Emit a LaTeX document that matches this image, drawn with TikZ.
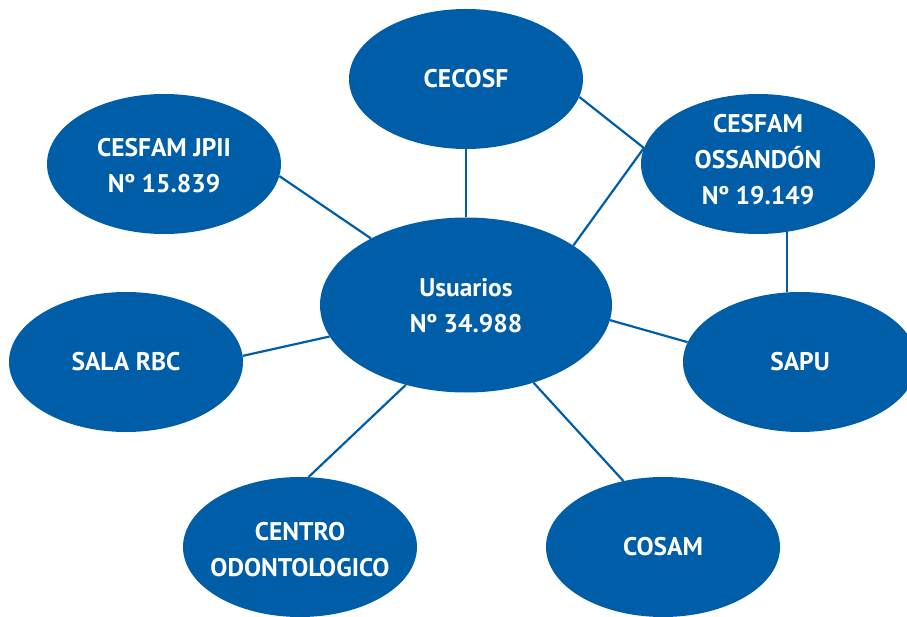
\documentclass[tikz,border=0pt]{standalone}
\usepackage{fontspec}
\setmainfont{PT Sans}
\usetikzlibrary{shapes.geometric}
\definecolor{blu}{RGB}{0,94,168}
\tikzset{
  blob/.style={ellipse, fill=blu, draw=none, inner sep=0pt,
    minimum width=234pt, minimum height=140pt},
  big/.style={blob, minimum width=292pt, minimum height=175pt},
  lbl/.style={text=white, font=\bfseries\fontsize{25.5}{36}\selectfont,
    align=center, inner sep=0pt},
  link/.style={draw=blu, line width=2.2pt}
}
\begin{document}
\begin{tikzpicture}[x=1pt,y=-1pt]
\useasboundingbox (0,0) rectangle (907,617);
\clip (0,0) rectangle (907,617);
\node[blob] (cec) at (466,79) {};
\node[lbl] (tcec) at (cec) {CECOSF};
\node[blob] (jp) at (164,164) {};
\node[lbl] (tjp) at (164,166) {CESFAM JPII\\Nº 15.839};
\node[blob] (oss) at (758,164) {};
\node[lbl] (toss) at (758,160) {CESFAM\\OSSANDÓN\\Nº 19.149};
\node[big] (u) at (466,305) {};
\node[lbl] (tu) at (466,306) {Usuarios\\Nº 34.988};
\node[blob] (rbc) at (126,362) {};
\node[lbl] (trbc) at (rbc) {SALA RBC};
\node[blob] (sapu) at (800,362) {};
\node[lbl] (tsapu) at (sapu) {SAPU};
\node[blob] (od) at (300,547) {};
\node[lbl] (tod) at (300,550) {CENTRO\\ODONTOLOGICO};
\node[blob] (cos) at (663,547) {};
\node[lbl] (tcos) at (cos) {COSAM};
\coordinate (ossw) at (oss.172);
\coordinate (osss) at (oss.-67);
\draw[link] (cec.south) -- (u.north);
\draw[link] (jp.-6) -- (u.145);
\draw[link] (rbc.3) -- (u.193);
\draw[link] (u.-6) -- (sapu.170);
\draw[link] (u.233) -- (od.83);
\draw[link] (u.-49) -- (cos.121);
\draw[link] (u.29) -- (ossw);
\draw[link] (cec.-9) -- (ossw);
\draw[link] (osss) -- (osss |- sapu.north);
\end{tikzpicture}
\end{document}
